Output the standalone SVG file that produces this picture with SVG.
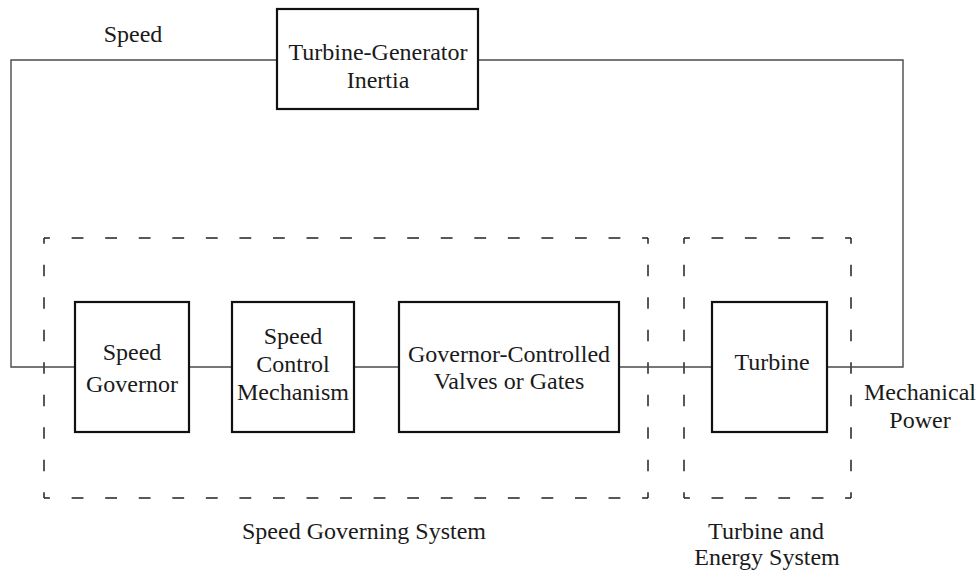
<svg xmlns="http://www.w3.org/2000/svg" width="979" height="571" viewBox="0 0 979 571">
  <style>
    .blk { fill: #ffffff; stroke: #111111; stroke-width: 2.2; }
    .wire { fill: none; stroke: #4a4a4a; stroke-width: 1.4; }
    .dash { fill: none; stroke: #222222; stroke-width: 1.5; stroke-dasharray: 12 22; stroke-dashoffset: 6; }
    text { font-family: "Liberation Serif", "Tinos", "Times New Roman", Times, "DejaVu Serif", serif; font-size: 24px; fill: #1a1a1a; text-anchor: middle; }
  </style>
  <rect width="979" height="571" fill="#ffffff"/>

  <!-- subsystem boundaries -->
  <g id="speed-governing-system">
    <path class="dash" d="M44 238 H648" pathLength="612"/>
    <path class="dash" d="M44 498 H648" pathLength="612"/>
    <path class="dash" d="M44 238 V498" pathLength="272"/>
    <path class="dash" d="M648 238 V498" pathLength="272"/>
    <text x="364" y="539">Speed Governing System</text>
  </g>
  <g id="turbine-energy-system">
    <path class="dash" d="M684 238 H851" pathLength="170"/>
    <path class="dash" d="M684 498 H851" pathLength="170"/>
    <path class="dash" d="M684 238 V498" pathLength="272"/>
    <path class="dash" d="M851 238 V498" pathLength="272"/>
    <text x="766" y="539">Turbine and</text>
    <text x="767" y="565">Energy System</text>
  </g>

  <!-- signal lines -->
  <g id="connectors">
    <path class="wire" d="M277 60 H11 V367 H75"/>
    <path class="wire" d="M478 60 H903 V367 H827"/>
    <path class="wire" d="M189 367 H232"/>
    <path class="wire" d="M354 367 H399"/>
    <path class="wire" d="M619 367 H712"/>
  </g>

  <!-- signal labels -->
  <g id="label-speed">
    <text x="133" y="42">Speed</text>
  </g>
  <g id="label-mechanical-power">
    <text x="920" y="400">Mechanical</text>
    <text x="920" y="428">Power</text>
  </g>

  <!-- blocks -->
  <g id="turbine-generator-inertia">
    <rect class="blk" x="277" y="9" width="201" height="100"/>
    <text x="378" y="60">Turbine-Generator</text>
    <text x="378" y="88">Inertia</text>
  </g>
  <g id="speed-governor">
    <rect class="blk" x="75" y="302" width="114" height="130"/>
    <text x="132" y="360">Speed</text>
    <text x="132" y="392">Governor</text>
  </g>
  <g id="speed-control-mechanism">
    <rect class="blk" x="232" y="302" width="122" height="130"/>
    <text x="293" y="344">Speed</text>
    <text x="293" y="372">Control</text>
    <text x="293" y="400">Mechanism</text>
  </g>
  <g id="governor-controlled-valves">
    <rect class="blk" x="399" y="302" width="220" height="130"/>
    <text x="509" y="362">Governor-Controlled</text>
    <text x="509" y="389">Valves or Gates</text>
  </g>
  <g id="turbine">
    <rect class="blk" x="712" y="302" width="115" height="130"/>
    <text x="772" y="370">Turbine</text>
  </g>
</svg>
